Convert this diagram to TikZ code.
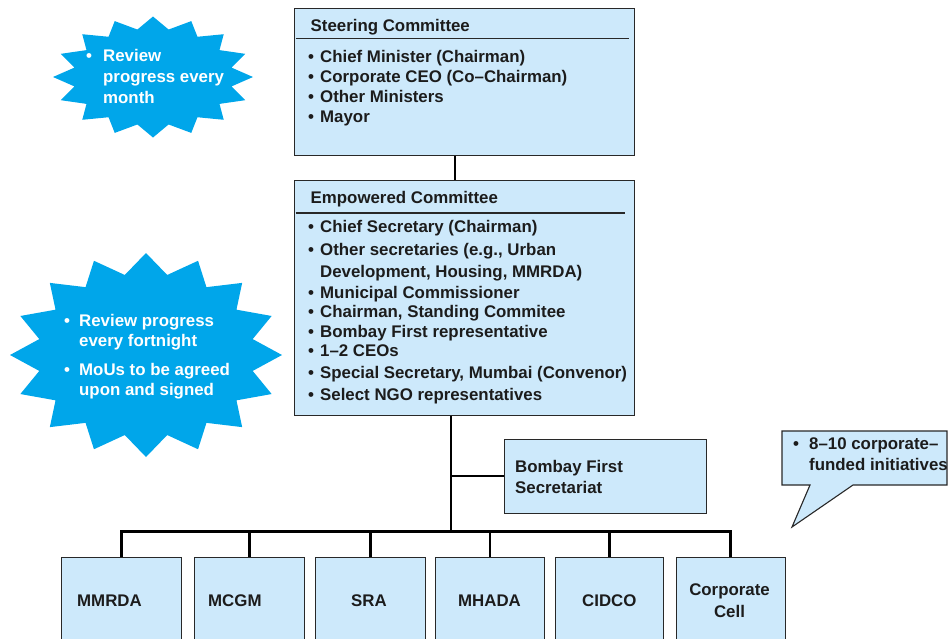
\documentclass[tikz,border=0pt]{standalone}
\usepackage{fontspec}
\setmainfont{Liberation Sans}
\usetikzlibrary{calc}
\definecolor{boxfill}{RGB}{205,233,251}
\definecolor{boxline}{RGB}{40,40,40}
\definecolor{starfill}{RGB}{0,166,234}
\definecolor{ink}{RGB}{28,28,28}
\newcommand{\bul}[1]{\makebox[#1][l]{\textbullet}}
\begin{document}
\begin{tikzpicture}[x=1pt,y=-1pt,
  font=\fontsize{16.85}{20}\selectfont\bfseries,
  box/.style={draw=boxline,fill=boxfill,line width=1.1pt,inner sep=0pt,anchor=north west,minimum width=#1},
  txt/.style={anchor=base west,inner sep=0pt,text=ink},
  ctxt/.style={anchor=base,inner sep=0pt,text=ink},
  wtxt/.style={anchor=base west,inner sep=0pt,text=white},
  conn/.style={draw=black,line width=2.7pt,line join=miter},
  rule/.style={draw=boxline,line width=1.4pt}]
\useasboundingbox (0,0) rectangle (949,638);
\clip (0,0) rectangle (949,638);

% starbursts
\fill[starfill] plot[samples at={0,...,31}]
  ({153+100*(0.9+0.1*cos(\x*180))*cos(\x*11.25)},{77+60.5*(0.9+0.1*cos(\x*180))*sin(\x*11.25)}) -- cycle;
\fill[starfill] plot[samples at={0,...,31}]
  ({146+136*(0.9+0.1*cos(\x*180))*cos(\x*11.25)},{355+102*(0.9+0.1*cos(\x*180))*sin(\x*11.25)}) -- cycle;

\node[wtxt] (s1a) at (86,61.7) {\bul{17pt}Review};
\node[wtxt] (s1b) at (103,82.5) {progress every};
\node[wtxt] (s1c) at (103,103) {month};

\node[wtxt] (s2a) at (64,326.7) {\bul{15pt}Review progress};
\node[wtxt] (s2b) at (79,346) {every fortnight};
\node[wtxt] (s2c) at (64,375) {\bul{15pt}MoUs to be agreed};
\node[wtxt] (s2d) at (79,395) {upon and signed};

% committees
\node[box=340.5pt,minimum height=147.5pt] (steer) at (293.5,7.5) {};
\node[box=340.5pt,minimum height=235pt] (emp) at (293.5,179.5) {};
\draw[rule] ($(steer.north west)+(2,31)$) -- ($(steer.north east)+(-6,31)$);
\draw[rule] ($(emp.north west)+(2,33.5)$) -- ($(emp.north east)+(-10,33.5)$);

\node[txt] (st0) at (310.5,31.5) {Steering Committee};
\node[txt] (st1) at (308,62) {\bul{12pt}Chief Minister (Chairman)};
\node[txt] (st2) at (308,82) {\bul{12pt}Corporate CEO (Co–Chairman)};
\node[txt] (st3) at (308,102) {\bul{12pt}Other Ministers};
\node[txt] (st4) at (308,122) {\bul{12pt}Mayor};

\node[txt] (em0) at (310.5,203.3) {Empowered Committee};
\node[txt] (em1) at (308,232) {\bul{12pt}Chief Secretary (Chairman)};
\node[txt] (em2) at (308,255) {\bul{12pt}Other secretaries (e.g., Urban};
\node[txt] (em2b) at (320,277) {Development, Housing, MMRDA)};
\node[txt] (em3) at (308,298) {\bul{12pt}Municipal Commissioner};
\node[txt] (em4) at (308,317) {\bul{12pt}Chairman, Standing Commitee};
\node[txt] (em5) at (308,337) {\bul{12pt}Bombay First representative};
\node[txt] (em6) at (308,356) {\bul{12pt}1–2 CEOs};
\node[txt] (em7) at (308,378) {\bul{12pt}Special Secretary, Mumbai (Convenor)};
\node[txt] (em8) at (308,400) {\bul{12pt}Select NGO representatives};

% secretariat
\node[box=202.5pt,minimum height=74pt] (bfs) at (503.5,438.5) {};
\node[txt] (bfs1) at (515,472.7) {Bombay First};
\node[txt] (bfs2) at (515,493.3) {Secretariat};

% speech callout
\draw[draw=boxline,fill=boxfill,line width=1.1pt,line join=miter]
  (782,431) -- (947,431) -- (947,485) -- (853,485) -- (792,527) -- (810,485) -- (782,485) -- cycle;
\node[txt] (co1) at (793,449.3) {\bul{16pt}8–10 corporate–};
\node[txt] (co2) at (809,470) {funded initiatives};

% agencies
\node[box=120.5pt,minimum height=110pt] (mmrda) at (60.5,557) {};
\node[box=110pt,minimum height=110pt] (mcgm) at (194,557) {};
\node[box=110pt,minimum height=110pt] (sra) at (315,557) {};
\node[box=109pt,minimum height=110pt] (mhada) at (435,557) {};
\node[box=108pt,minimum height=110pt] (cidco) at (555,557) {};
\node[box=108.5pt,minimum height=110pt] (corp) at (676,557) {};

\node[txt] (l-mmrda) at (77,606) {MMRDA};
\node[txt] (l-mcgm) at (208,606) {MCGM};
\node[ctxt] (l-sra) at (369,606) {SRA};
\node[ctxt] (l-mhada) at (489.5,606) {MHADA};
\node[ctxt] (l-cidco) at (609.3,606) {CIDCO};
\node[ctxt] (l-corp1) at (729.5,595) {Corporate};
\node[ctxt] (l-corp2) at (729.5,617) {Cell};

% connectors
\coordinate (trunkA) at (455,0);
\coordinate (trunk) at (451,0);
\coordinate (busY) at (0,531.5);
\draw[conn] (steer.south -| trunkA) -- (emp.north -| trunkA);
\draw[conn] (emp.south -| trunk) -- (trunk |- busY);
\draw[conn] (trunk |- bfs.west) -- (bfs.west);
\draw[conn] (mmrda.north) -- (mmrda.north |- busY) -- (corp.north |- busY) -- (corp.north);
\draw[conn] (mcgm.north |- busY) -- (mcgm.north);
\draw[conn] (sra.north |- busY) -- (sra.north);
\draw[conn] (mhada.north |- busY) -- (mhada.north);
\draw[conn] (cidco.north |- busY) -- (cidco.north);
\end{tikzpicture}
\end{document}
